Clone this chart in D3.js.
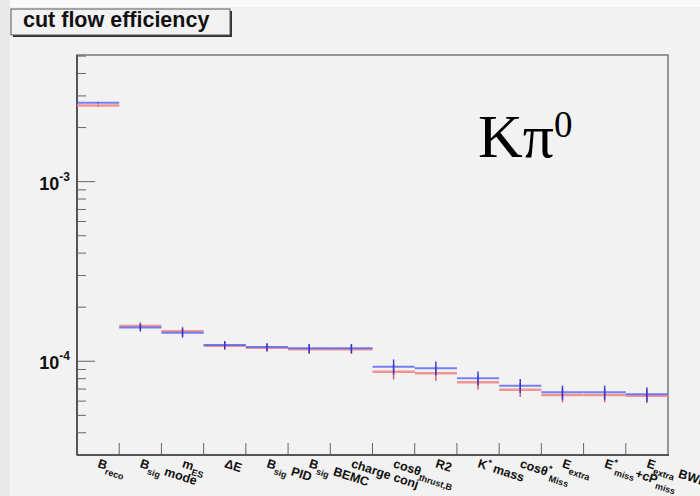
<!DOCTYPE html>
<html>
<head>
<meta charset="utf-8">
<script src="https://cdn.jsdelivr.net/npm/d3@7"></script>
<style>
  body { margin: 0; background: #f2f2f2; }
  svg { display: block; }
</style>
</head>
<body>
<div id="cut-flow"></div>
<script>
'use strict';

// cut names, as drawn under the x axis (_{..} subscript, ^{..} superscript)
var categories = [
    'B_{reco}', 'B_{sig} mode', 'm_{ES}', 'ΔE', 'B_{sig} PID', 'B_{sig} BEMC',
    'charge conj', 'cosθ_{thrust,B}', 'R2', 'K^{*} mass', 'cosθ^{*}_{Miss}',
    'E_{extra}', 'E^{*}_{miss}+cP_{miss}', 'E_{extra} BWD'
];

// efficiencies
var blueValues = [2.75e-3, 1.54e-4, 1.44e-4, 1.233e-4, 1.20e-4, 1.18e-4, 1.18e-4,
    9.33e-5, 9.14e-5, 8.04e-5, 7.31e-5, 6.72e-5, 6.72e-5, 6.55e-5];
var redValues = [2.65e-3, 1.57e-4, 1.47e-4, 1.22e-4, 1.19e-4, 1.166e-4, 1.166e-4,
    8.75e-5, 8.57e-5, 7.64e-5, 6.95e-5, 6.49e-5, 6.49e-5, 6.43e-5];
var blueErrors = [2e-5, 7.8e-6, 8.7e-6, 6.3e-6, 6e-6, 6.8e-6, 6.8e-6,
    9e-6, 8.2e-6, 7.2e-6, 6.6e-6, 6e-6, 6e-6, 6e-6];
var redErrors = [2e-5, 7.8e-6, 8.7e-6, 6.3e-6, 6e-6, 6.8e-6, 6.8e-6,
    8.4e-6, 7.8e-6, 6.9e-6, 6.3e-6, 5.8e-6, 5.8e-6, 5.8e-6];

var yDomain = [3.007e-5, 5.07e-3];
var majorTicks = [1e-4, 1e-3];
var tickLabels = ['-4', '-3'];

var width = 700,
    height = 496;

var frame = {left: 77, right: 668, top: 55, bottom: 455};

var svg = d3.select('#cut-flow').append('svg')
    .attr('width', width)
    .attr('height', height)
    .style('font-family', '"Liberation Sans", Arial, sans-serif');

// canvas
svg.append('rect').attr('width', width).attr('height', height).attr('fill', '#f2f2f2');
svg.append('rect').attr('width', width).attr('height', 7).attr('fill', '#fafafa');
svg.append('rect').attr('width', 10).attr('height', height).attr('fill', '#e9e9e9');

var x = d3.scaleBand()
    .domain(d3.range(categories.length))
    .range([frame.left, frame.right])
    .padding(0);

var y = d3.scaleLog()
    .domain(yDomain)
    .range([frame.bottom, frame.top]);

// frame
svg.append('rect')
    .attr('x', frame.left).attr('y', frame.top)
    .attr('width', frame.right - frame.left).attr('height', frame.bottom - frame.top)
    .attr('fill', 'none').attr('stroke', '#777').attr('stroke-width', 1.5);

// y axis (log, major + minor ticks)
var minor = [];
[1e-5, 1e-4, 1e-3].forEach(function(dec) {
    for (var k = 2; k <= 9; k++) {
        var v = dec * k;
        if (v >= yDomain[0] && v <= yDomain[1]) minor.push(v);
    }
});

var yAxis = svg.append('g');
yAxis.selectAll('line.minor')
    .data(minor)
    .enter().append('line')
    .attr('x1', frame.left).attr('x2', frame.left + 9)
    .attr('y1', function(d) { return y(d); })
    .attr('y2', function(d) { return y(d); })
    .attr('stroke', '#666').attr('stroke-width', 1);
yAxis.selectAll('line.major')
    .data(majorTicks)
    .enter().append('line')
    .attr('x1', frame.left).attr('x2', frame.left + 18)
    .attr('y1', function(d) { return y(d); })
    .attr('y2', function(d) { return y(d); })
    .attr('stroke', '#666').attr('stroke-width', 1);

var yLab = yAxis.selectAll('text')
    .data(majorTicks)
    .enter().append('text')
    .attr('x', 70)
    .attr('y', function(d) { return y(d) + 8; })
    .attr('text-anchor', 'end')
    .attr('font-weight', 'bold')
    .attr('font-size', 18)
    .attr('fill', '#111');
yLab.append('tspan').text('10');
yLab.append('tspan')
    .attr('font-size', 12)
    .attr('dy', -9)
    .text(function(d, i) { return tickLabels[i]; });

svg.append('line')
    .attr('x1', frame.left).attr('x2', frame.left)
    .attr('y1', frame.top).attr('y2', frame.bottom)
    .attr('stroke', '#555').attr('stroke-width', 2);

// x axis ticks at bin edges
var edges = d3.range(1, categories.length).map(function(i) { return x(i); });
svg.append('g').selectAll('line')
    .data(edges)
    .enter().append('line')
    .attr('x1', function(d) { return d; }).attr('x2', function(d) { return d; })
    .attr('y1', frame.bottom).attr('y2', frame.bottom - 12)
    .attr('stroke', '#666').attr('stroke-width', 1);
svg.append('line')
    .attr('x1', frame.left).attr('x2', frame.right + 1)
    .attr('y1', frame.bottom).attr('y2', frame.bottom)
    .attr('stroke', '#555').attr('stroke-width', 2);

// bin labels with sub/superscripts
function parseLabel(s) {
    var parts = [];
    var re = /([_^])\{([^}]*)\}|([^_^]+)/g, m;
    while ((m = re.exec(s)) !== null) {
        if (m[3]) parts.push({t: m[3], k: 'n'});
        else parts.push({t: m[2], k: m[1] === '_' ? 'sub' : 'sup'});
    }
    return parts;
}

svg.append('g').selectAll('text')
    .data(categories)
    .enter().append('text')
    .attr('transform', function(d, i) {
        return 'translate(' + (x(i) + x.bandwidth() / 2 - 1) + ',467) rotate(18)';
    })
    .attr('font-weight', 'bold')
    .attr('font-size', 12.5)
    .attr('fill', '#111')
    .each(function(d) {
        var t = d3.select(this);
        var shift = 0;
        parseLabel(d).forEach(function(p) {
            var target = p.k === 'sub' ? 4.5 : (p.k === 'sup' ? -5 : 0);
            t.append('tspan')
                .attr('dy', target - shift)
                .attr('font-size', p.k === 'n' ? 12.5 : 9)
                .text(p.t);
            shift = target;
        });
    });

// histograms: horizontal bin bars + vertical error bars
function drawSeries(values, errors, bar, err, barWidth, opacity) {
    var g = svg.append('g');
    g.selectAll('line.bar')
        .data(values)
        .enter().append('line')
        .attr('x1', function(d, i) { return x(i); })
        .attr('x2', function(d, i) { return x(i) + x.bandwidth(); })
        .attr('y1', function(d) { return y(d); })
        .attr('y2', function(d) { return y(d); })
        .attr('stroke', bar).attr('stroke-width', barWidth)
        .attr('stroke-opacity', opacity);
    g.selectAll('line.err')
        .data(values)
        .enter().append('line')
        .attr('x1', function(d, i) { return x(i) + x.bandwidth() / 2; })
        .attr('x2', function(d, i) { return x(i) + x.bandwidth() / 2; })
        .attr('y1', function(d, i) { return y(d + errors[i]); })
        .attr('y2', function(d, i) { return y(d - errors[i]); })
        .attr('stroke', err).attr('stroke-width', 1.5)
        .attr('stroke-opacity', 0.9);
}

drawSeries(redValues, redErrors, '#f08a8a', '#e05050', 2.5, 0.9);
drawSeries(blueValues, blueErrors, '#4a5cf5', '#2233dd', 2, 0.75);

// channel label
var ch = svg.append('text')
    .attr('x', 478)
    .attr('y', 157)
    .attr('font-family', '"Liberation Serif", "Times New Roman", serif')
    .attr('font-size', 62)
    .attr('fill', '#000');
ch.append('tspan').text('Kπ');
ch.append('tspan').attr('font-size', 37).attr('dy', -20).text('0');

// title box
svg.append('rect')
    .attr('x', 13).attr('y', 11).attr('width', 219).attr('height', 26)
    .attr('fill', '#333');
svg.append('rect')
    .attr('x', 11).attr('y', 9).attr('width', 219).attr('height', 26)
    .attr('fill', '#f2f2f2').attr('stroke', '#555').attr('stroke-width', 1);
svg.append('text')
    .attr('x', 23).attr('y', 27)
    .attr('font-weight', 'bold')
    .attr('font-size', 21.5)
    .attr('fill', '#111')
    .text('cut flow efficiency');
</script>
</body>
</html>
